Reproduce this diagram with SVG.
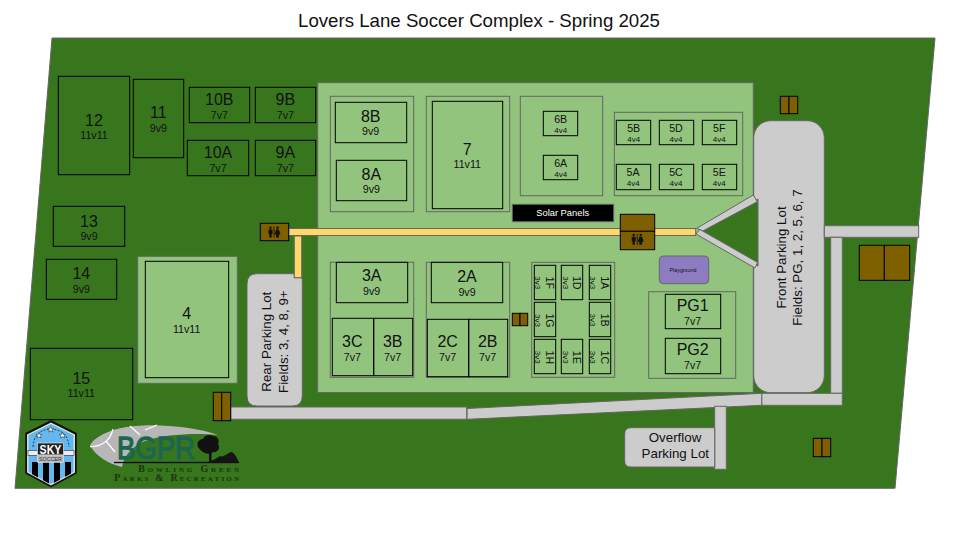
<svg xmlns="http://www.w3.org/2000/svg" width="960" height="540" viewBox="0 0 960 540">
<style>
text{font-family:"Liberation Sans",Arial,sans-serif;fill:#111;text-anchor:middle}
.f{fill:none;stroke:#000;stroke-width:1}
.z{fill:#93c47d;stroke:#666;stroke-width:1}
.zn{fill:none;stroke:#666;stroke-width:1}
.g{fill:#cccccc;stroke:#666;stroke-width:1}
.b{fill:#7f6000;stroke:#000;stroke-width:1}
.y{fill:#ffd966;stroke:#666;stroke-width:1}
.n{font-size:16px}.s{font-size:10.67px}.l{font-size:10.67px}.sol{font-size:9.33px}.n5{font-size:10.67px}.s5{font-size:8px}
.lot{font-size:13.33px}
.sk{fill:#000}
.bg{font-family:"Liberation Serif",serif;font-size:10px;font-weight:bold;font-variant:small-caps;fill:#1c3310}
</style>
<defs>
<g id="wc" fill="#111">
<circle cx="3" cy="1.2" r="1.2"/><path d="M1,3 H5 V7.5 H4.2 V11 H1.8 V7.5 H1 Z"/>
<circle cx="10" cy="1.2" r="1.2"/><path d="M8.6,3 H11.4 L13,8 H11.4 V11 H8.6 V8 H7 Z"/>
<rect x="6.1" y="0" width="0.8" height="11"/>
</g>
<polygon id="star" points="0,-3 .9,-1 3,-1 1.4,.4 2,2.6 0,1.3 -2,2.6 -1.4,.4 -3,-1 -.9,-1" fill="#fff" stroke="#222" stroke-width=".5"/>
<clipPath id="shield"><polygon points="51,423 74,434.5 74,472 51,484.5 28,472 28,434.5"/></clipPath>
</defs>
<rect width="960" height="540" fill="#fff"/>
<text x="479" y="27" font-size="18.67">Lovers Lane Soccer Complex - Spring 2025</text>
<polygon points="52,38 935,38 895,488.3 15,488.3" fill="#38761d" stroke="#666" stroke-width="1"/>
<rect id="main-grounds" x="317.7" y="82.7" width="435.6" height="309.8" class="z"/>
<rect id="field4-grounds" x="137.7" y="256.3" width="99.6" height="127" class="z"/>

<g id="front-lot"><rect x="753.7" y="120.7" width="70.6" height="272" rx="17" class="g"/></g>
<polygon id="lot-notch" points="702,231.7 758,199 758,266" fill="#38761d" stroke="#666" stroke-width="1"/>

<g id="connectors">
<polygon points="696.7,228.3 753.3,195 757.3,201.7 702.7,231" class="g"/>
<polygon points="700,229.5 757.7,262.5 755,268 696,234" class="g"/>
<rect x="824.3" y="225.7" width="94.4" height="11.6" class="g"/>
<rect x="830.7" y="237.3" width="11.6" height="156" class="g"/>
<rect x="761.7" y="393.3" width="80.6" height="12" class="g"/>
<polygon points="467,408.5 761.7,393.3 761.7,405.3 467,419.3" class="g"/>
<rect x="230.7" y="407" width="236" height="12.2" class="g"/>
<rect x="714.7" y="406.3" width="11.6" height="63" class="g"/>
<rect x="288.7" y="228.5" width="407" height="7" class="y"/>
<rect x="294.3" y="236" width="7.4" height="41.7" class="y"/>
</g>

<text class="lot" transform="translate(786,257.5) rotate(-90)">Front Parking Lot</text>
<text class="lot" transform="translate(801.5,257.5) rotate(-90)">Fields: PG, 1, 2, 5, 6, 7</text>

<g id="rear-lot"><path d="M257,273.7 H294.3 V277.7 H301.7 Q302.3,278 302.3,284 V396 Q302.3,406 292,406 H257 Q247,406 247,396 V284 Q247,273.7 257,273.7 Z" class="g"/><rect x="294.3" y="236" width="7.4" height="41.7" class="y"/>
<text class="lot" transform="translate(271,341.7) rotate(-90)">Rear Parking Lot</text><text class="lot" transform="translate(287.7,341.7) rotate(-90)">Fields: 3, 4, 8, 9+</text></g>
<g id="overflow-lot"><path d="M714.7,427.7 H631 Q624.7,427.7 624.7,434 V461 Q624.7,467 631,467 H714.7 Z" class="g"/><text x="675" y="442" class="lot">Overflow</text><text x="675.3" y="458" class="lot">Parking Lot</text></g>

<g id="building-top"><rect x="780.3" y="96.3" width="8.7" height="17.4" class="b"/><rect x="789" y="96.3" width="8.7" height="17.4" class="b"/></g>
<g id="building-right"><rect x="859.3" y="245.3" width="25" height="35" class="b"/><rect x="884.3" y="245.3" width="25.4" height="35" class="b"/></g>
<g id="building-lower"><rect x="813.3" y="438.3" width="8.7" height="18.4" class="b"/><rect x="822" y="438.3" width="8.7" height="18.4" class="b"/></g>
<g id="building-rear"><rect x="213.3" y="392.3" width="8.4" height="28.4" class="b"/><rect x="221.7" y="392.3" width="9" height="28.4" class="b"/></g>
<g id="building-mid"><rect x="512.3" y="313.3" width="7.7" height="12.4" class="b"/><rect x="520" y="313.3" width="7.7" height="12.4" class="b"/></g>
<g id="restroom-west"><rect x="260.3" y="223.3" width="28.4" height="17.4" class="b"/><use href="#wc" x="267.5" y="226.5"/></g>
<g id="restroom-center"><rect x="620.3" y="214.3" width="34.4" height="17" class="b"/><rect x="620.3" y="231.3" width="34.4" height="18.4" class="b"/><use href="#wc" x="630.7" y="233.8"/></g>

<g id="field-12"><rect x="58.3" y="76.3" width="71.4" height="98.4" class="f"/><text x="94" y="126" class="n">12</text><text x="94" y="139.3" class="l">11v11</text></g>
<g id="field-11"><rect x="133.3" y="79.3" width="50.4" height="78.4" class="f"/><text x="158.3" y="118.3" class="n">11</text><text x="158.3" y="131.7" class="s">9v9</text></g>
<g id="field-10B"><rect x="189.3" y="87.3" width="60.4" height="35.4" class="f"/><text x="219.3" y="105" class="n">10B</text><text x="219.3" y="118.7" class="s">7v7</text></g>
<g id="field-9B"><rect x="255.3" y="87.3" width="60.4" height="35.4" class="f"/><text x="285.3" y="105" class="n">9B</text><text x="285.3" y="118.7" class="s">7v7</text></g>
<g id="field-10A"><rect x="187.3" y="140.3" width="61.4" height="35.4" class="f"/><text x="218" y="158.3" class="n">10A</text><text x="218" y="171.7" class="s">7v7</text></g>
<g id="field-9A"><rect x="255.3" y="140.3" width="60.4" height="35.4" class="f"/><text x="285.3" y="158.3" class="n">9A</text><text x="285.3" y="171.7" class="s">7v7</text></g>
<g id="field-13"><rect x="53.3" y="206.3" width="71.4" height="40" class="f"/><text x="89" y="226.7" class="n">13</text><text x="89" y="240.3" class="s">9v9</text></g>
<g id="field-14"><rect x="46.3" y="259.3" width="70.4" height="40" class="f"/><text x="81.3" y="279.3" class="n">14</text><text x="81.3" y="293" class="s">9v9</text></g>
<g id="field-15"><rect x="30.3" y="348.3" width="102.4" height="71.4" class="f"/><text x="81.3" y="383.7" class="n">15</text><text x="81.3" y="396.7" class="l">11v11</text></g>
<g id="field-4"><rect x="145.3" y="261.3" width="83.4" height="116.4" class="f"/><text x="186.7" y="319.3" class="n">4</text><text x="186.7" y="332.7" class="l">11v11</text></g>

<g id="group-8"><rect x="330.3" y="96.3" width="83.4" height="115.4" class="zn"/></g>
<g id="field-8B"><rect x="335.3" y="102.3" width="71.4" height="40.4" class="f"/><text x="370.7" y="122" class="n">8B</text><text x="370.7" y="135.3" class="s">9v9</text></g>
<g id="field-8A"><rect x="336.3" y="160.3" width="70.4" height="40.4" class="f"/><text x="371.3" y="180" class="n">8A</text><text x="371.3" y="193.3" class="s">9v9</text></g>
<g id="group-7"><rect x="426.3" y="96.3" width="83.4" height="115.4" class="zn"/></g>
<g id="field-7"><rect x="432.3" y="101.3" width="70.4" height="107.4" class="f"/><text x="467.3" y="155" class="n">7</text><text x="467.3" y="168.3" class="l">11v11</text></g>
<g id="group-6"><rect x="520.3" y="96.3" width="82.4" height="99.4" class="zn"/></g>
<g id="field-6B"><rect x="543.3" y="111.3" width="34.4" height="24.4" class="f"/><text x="560.7" y="122.7" class="n5">6B</text><text x="560.7" y="132.7" class="s5">4v4</text></g>
<g id="field-6A"><rect x="543.3" y="155.3" width="34.4" height="24.4" class="f"/><text x="560.7" y="166.7" class="n5">6A</text><text x="560.7" y="177" class="s5">4v4</text></g>
<g id="solar-panels"><rect x="512.3" y="204.3" width="101.4" height="17.4" fill="#000" stroke="#666"/><text x="562.7" y="216.3" class="sol" style="fill:#fff">Solar Panels</text></g>
<g id="group-5"><rect x="614.3" y="112.3" width="128.4" height="83.4" class="zn"/></g>
<g id="field-5B"><rect x="616.3" y="120.3" width="34.4" height="24.4" class="f"/><text x="633.7" y="132" class="n5">5B</text><text x="633.7" y="142.3" class="s5">4v4</text></g>
<g id="field-5D"><rect x="659.3" y="120.3" width="34.4" height="24.4" class="f"/><text x="676" y="132" class="n5">5D</text><text x="676" y="142.3" class="s5">4v4</text></g>
<g id="field-5F"><rect x="702.3" y="120.3" width="34.4" height="24.4" class="f"/><text x="719.3" y="132" class="n5">5F</text><text x="719.3" y="142.3" class="s5">4v4</text></g>
<g id="field-5A"><rect x="616.3" y="164.3" width="34.4" height="25.4" class="f"/><text x="633" y="176" class="n5">5A</text><text x="633.3" y="186.3" class="s5">4v4</text></g>
<g id="field-5C"><rect x="659.3" y="164.3" width="34.4" height="25.4" class="f"/><text x="676" y="176" class="n5">5C</text><text x="676" y="186.3" class="s5">4v4</text></g>
<g id="field-5E"><rect x="702.3" y="164.3" width="34.4" height="25.4" class="f"/><text x="719.3" y="176" class="n5">5E</text><text x="719.3" y="186.3" class="s5">4v4</text></g>

<g id="group-3"><rect x="330.3" y="262.3" width="83.4" height="115" class="zn"/></g>
<g id="field-3A"><rect x="336.3" y="262.3" width="71.4" height="40.4" class="f"/><text x="371.7" y="281.3" class="n">3A</text><text x="371.7" y="295" class="s">9v9</text></g>
<g id="field-3C"><rect x="332.3" y="318.3" width="41.4" height="57.4" class="f"/><text x="352.3" y="346.7" class="n">3C</text><text x="352.3" y="360.7" class="s">7v7</text></g>
<g id="field-3B"><rect x="373.7" y="318.3" width="39" height="57.4" class="f"/><text x="392.7" y="346.7" class="n">3B</text><text x="392.7" y="360.7" class="s">7v7</text></g>
<g id="group-2"><rect x="426.3" y="262.3" width="83.4" height="115" class="zn"/></g>
<g id="field-2A"><rect x="431.3" y="262.3" width="71.4" height="40.4" class="f"/><text x="467" y="282.3" class="n">2A</text><text x="467" y="295.7" class="s">9v9</text></g>
<g id="field-2C"><rect x="427.3" y="319.3" width="41.4" height="57.4" class="f"/><text x="447.7" y="347.3" class="n">2C</text><text x="447.7" y="361" class="s">7v7</text></g>
<g id="field-2B"><rect x="468.7" y="319.3" width="39" height="57.4" class="f"/><text x="487.7" y="347.3" class="n">2B</text><text x="487.7" y="361" class="s">7v7</text></g>

<g id="group-1"><rect x="531.7" y="262.3" width="83" height="115" class="zn"/></g>
<g id="field-1F"><rect x="534.3" y="265.3" width="21.4" height="34.4" class="f"/><text class="n5" transform="translate(545.7,282.7) rotate(90)">1F</text><text class="s5" transform="translate(535.2,282.7) rotate(90)">3v3</text></g>
<g id="field-1D"><rect x="561.3" y="265.3" width="21.4" height="34.4" class="f"/><text class="n5" transform="translate(573,282.7) rotate(90)">1D</text><text class="s5" transform="translate(562.7,282.7) rotate(90)">3v3</text></g>
<g id="field-1A"><rect x="589.3" y="265.3" width="21.4" height="34.4" class="f"/><text class="n5" transform="translate(600.7,282.7) rotate(90)">1A</text><text class="s5" transform="translate(590.3,282.7) rotate(90)">3v3</text></g>
<g id="field-1G"><rect x="534.3" y="302.3" width="21.4" height="34.4" class="f"/><text class="n5" transform="translate(545.7,320.5) rotate(90)">1G</text><text class="s5" transform="translate(535.2,320.5) rotate(90)">3v3</text></g>
<g id="field-1B"><rect x="589.3" y="302.3" width="21.4" height="34.4" class="f"/><text class="n5" transform="translate(600.7,320) rotate(90)">1B</text><text class="s5" transform="translate(590.3,320) rotate(90)">3v3</text></g>
<g id="field-1H"><rect x="534.3" y="339.3" width="21.4" height="34.4" class="f"/><text class="n5" transform="translate(545.7,357.3) rotate(90)">1H</text><text class="s5" transform="translate(535.2,357.3) rotate(90)">3v3</text></g>
<g id="field-1E"><rect x="561.3" y="339.3" width="21.4" height="34.4" class="f"/><text class="n5" transform="translate(573,357.3) rotate(90)">1E</text><text class="s5" transform="translate(562.7,357.3) rotate(90)">3v3</text></g>
<g id="field-1C"><rect x="589.3" y="339.3" width="21.4" height="34.4" class="f"/><text class="n5" transform="translate(600.7,357.3) rotate(90)">1C</text><text class="s5" transform="translate(590.3,357.3) rotate(90)">3v3</text></g>

<g id="playground"><rect x="659.3" y="256" width="49.4" height="27.7" rx="4" fill="#8e7cc3" stroke="#666"/><text x="683" y="272" font-size="5.33">Playground</text></g>
<g id="group-PG"><rect x="648.7" y="291.7" width="87" height="86.6" class="zn"/></g>
<g id="field-PG1"><rect x="665.3" y="294.3" width="55.4" height="34.4" class="f"/><text x="692.7" y="310.7" class="n">PG1</text><text x="692.7" y="325" class="s">7v7</text></g>
<g id="field-PG2"><rect x="665.3" y="338.3" width="55.4" height="35.4" class="f"/><text x="692.7" y="355.3" class="n">PG2</text><text x="692.7" y="369" class="s">7v7</text></g>

<g id="sky-logo">
<polygon points="51,421 76,433.5 76,473 51,486.5 26,473 26,433.5" fill="#111" stroke="#111" stroke-width="1.5" stroke-linejoin="round"/>
<polygon points="51,422.5 75,434.5 75,472.5 51,485.5 27,472.5 27,434.5" fill="#ddd"/>
<polygon points="51,424 73.5,435.3 73.5,471.8 51,484 28.5,471.8 28.5,435.3" fill="#63b8ef"/>
<g clip-path="url(#shield)">
<rect x="32" y="462" width="6" height="24" class="sk"/><rect x="43" y="462" width="6" height="24" class="sk"/><rect x="54" y="462" width="6" height="24" class="sk"/><rect x="65" y="462" width="6" height="24" class="sk"/>
</g>
<path d="M33,447 Q34,430 51,429 Q68,430 69,447" fill="none" stroke="#111" stroke-width=".8" stroke-dasharray="2 1.5"/>
<use href="#star" x="39" y="435.5"/><use href="#star" x="50.7" y="429.5"/><use href="#star" x="62.5" y="435.5"/>
<rect x="28" y="450.5" width="46" height="4.8" fill="#eee" stroke="#111" stroke-width=".5"/>
<rect x="37.5" y="443" width="26" height="12" fill="#222" stroke="#ddd" stroke-width=".7"/>
<rect x="37.5" y="455" width="26" height="7.5" fill="#bbb" stroke="#eee" stroke-width=".5"/>
<text x="50.5" y="454" font-size="12.5" font-weight="bold" style="fill:#fff" textLength="22" lengthAdjust="spacingAndGlyphs">SKY</text>
<text x="50.5" y="461" font-size="5.5" style="fill:#333" textLength="23" lengthAdjust="spacingAndGlyphs">SOCCER</text>
</g>

<g id="bgpr-logo">
<path d="M90,445.5 C95,436 112,428 135,426 C160,423.5 196,427 218,435 C196,433 165,434 145,441 C132,446 124,456 122,467 C108,464 95,455 90,445.5 Z" fill="#b7b7b7"/>
<path d="M90,446.7 C100,447 110,442 113,429 M106,441 L115,452 M130,426 L140,435 M145,430 L157,425" fill="none" stroke="#fff" stroke-width="1.2"/>
<text x="156" y="459.3" font-size="32" style="fill:#1c6650;stroke:#1c6650;stroke-width:1.3" textLength="78" lengthAdjust="spacingAndGlyphs">BGPR</text>
<path d="M208,462 C212,460 216,459 220,456 C224,458 228,452 232,452 C235,454 237,458 239,462.5 Z" fill="#151515"/>
<rect x="114" y="461.8" width="125" height="1.4" fill="#111"/>
<rect x="209" y="448" width="2.5" height="14" fill="#111"/>
<path d="M198,447 C196,442 200,439 203,439 C204,435 210,434 213,436 C218,436 220,441 218,444 C221,448 217,453 213,452 C209,456 202,453 198,447 Z" fill="#111"/>
<text x="188.6" y="471.7" class="bg" textLength="100.7" lengthAdjust="spacing">Bowling Green</text>
<text x="176.6" y="481" class="bg" textLength="124.7" lengthAdjust="spacing">Parks &amp; Recreation</text>
</g>
</svg>
